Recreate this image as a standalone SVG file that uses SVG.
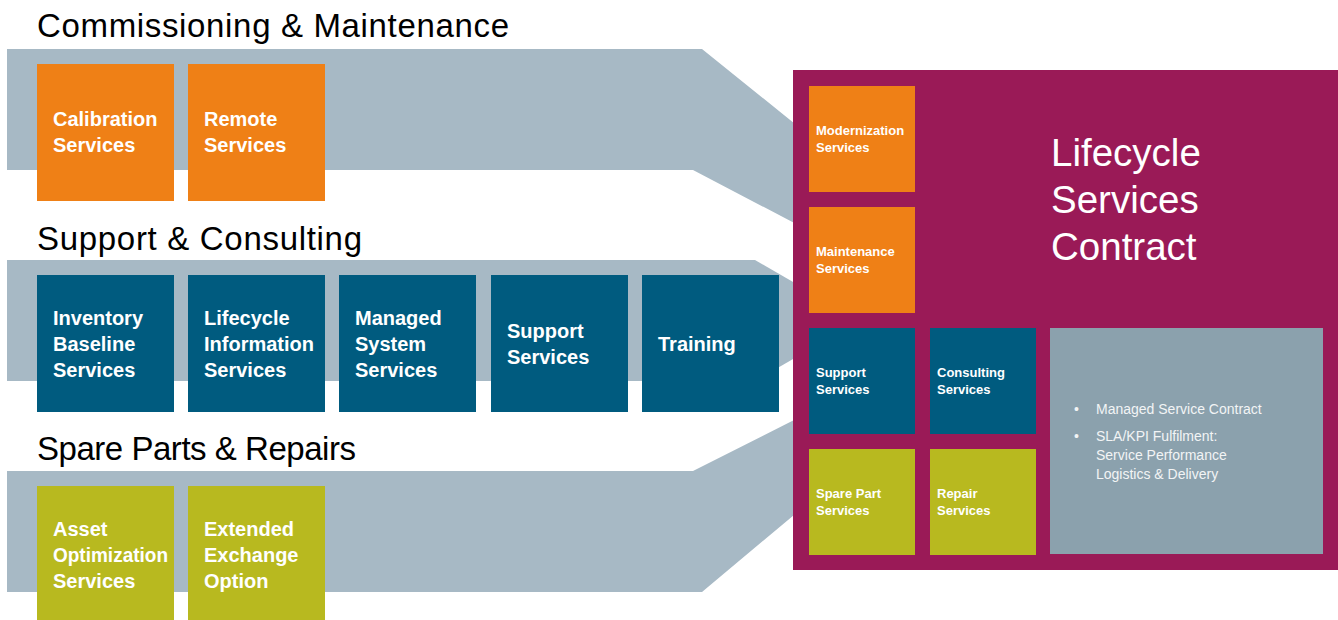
<svg xmlns="http://www.w3.org/2000/svg" width="1338" height="620" viewBox="0 0 1338 620">
<style>
.band{fill:#a7b9c5}
.h{font-family:"Liberation Sans",Arial,sans-serif;font-size:33px;fill:#000}
.big{font-family:"Liberation Sans",Arial,sans-serif;font-size:20px;font-weight:bold;fill:#fff}
.sm{font-family:"Liberation Sans",Arial,sans-serif;font-size:13px;font-weight:bold;fill:#fff}
.or{fill:#ef8016}.bl{fill:#005b7f}.ol{fill:#b8b91f}
.title{font-family:"Liberation Sans",Arial,sans-serif;font-size:38.5px;fill:#fff}
.bul{font-family:"Liberation Sans",Arial,sans-serif;font-size:14px;fill:#f2f4f5}
</style>
<g id="connectors">
<polygon class="band" points="7,49 702,49 800,128 800,226 693,170 7,170"/>
<polygon class="band" points="7,260 755,260 800,286 800,355 755,381 7,381"/>
<polygon class="band" points="7,471 693,471 800,417 800,510 702,592 7,592"/>
</g>
<g id="headings">
<text class="h" x="37" y="37" textLength="472">Commissioning &amp; Maintenance</text>
<text class="h" x="37" y="250" textLength="325">Support &amp; Consulting</text>
<text class="h" x="37" y="460" textLength="319">Spare Parts &amp; Repairs</text>
</g>
<g id="calibration"><rect class="or" x="37" y="64" width="137" height="137"/><text class="big" x="53" y="126">Calibration</text><text class="big" x="53" y="152">Services</text></g>
<g id="remote"><rect class="or" x="188" y="64" width="137" height="137"/><text class="big" x="204" y="126">Remote</text><text class="big" x="204" y="152">Services</text></g>
<g id="inventory"><rect class="bl" x="37" y="275" width="137" height="137"/><text class="big" x="53" y="325">Inventory</text><text class="big" x="53" y="351">Baseline</text><text class="big" x="53" y="377">Services</text></g>
<g id="lifecycle-info"><rect class="bl" x="188" y="275" width="137" height="137"/><text class="big" x="204" y="325">Lifecycle</text><text class="big" x="204" y="351">Information</text><text class="big" x="204" y="377">Services</text></g>
<g id="managed"><rect class="bl" x="339" y="275" width="137" height="137"/><text class="big" x="355" y="325">Managed</text><text class="big" x="355" y="351">System</text><text class="big" x="355" y="377">Services</text></g>
<g id="support"><rect class="bl" x="491" y="275" width="137" height="137"/><text class="big" x="507" y="338">Support</text><text class="big" x="507" y="364">Services</text></g>
<g id="training"><rect class="bl" x="642" y="275" width="137" height="137"/><text class="big" x="658" y="351">Training</text></g>
<g id="asset"><rect class="ol" x="37" y="486" width="137" height="137"/><text class="big" x="53" y="536">Asset</text><text class="big" x="53" y="562" textLength="115" lengthAdjust="spacingAndGlyphs">Optimization</text><text class="big" x="53" y="588">Services</text></g>
<g id="exchange"><rect class="ol" x="188" y="486" width="137" height="137"/><text class="big" x="204" y="536">Extended</text><text class="big" x="204" y="562">Exchange</text><text class="big" x="204" y="588">Option</text></g>
<g id="contract">
<rect x="793" y="70" width="545" height="500" fill="#9a1a57"/>
<text class="title" x="1051" y="166">Lifecycle</text>
<text class="title" x="1051" y="213">Services</text>
<text class="title" x="1051" y="260">Contract</text>
</g>
<g id="modernization"><rect class="or" x="809" y="86" width="106" height="106"/><text class="sm" x="816" y="135">Modernization</text><text class="sm" x="816" y="152">Services</text></g>
<g id="maintenance"><rect class="or" x="809" y="207" width="106" height="106"/><text class="sm" x="816" y="256">Maintenance</text><text class="sm" x="816" y="273">Services</text></g>
<g id="support-s"><rect class="bl" x="809" y="328" width="106" height="106"/><text class="sm" x="816" y="377">Support</text><text class="sm" x="816" y="394">Services</text></g>
<g id="consulting"><rect class="bl" x="930" y="328" width="106" height="106"/><text class="sm" x="937" y="377">Consulting</text><text class="sm" x="937" y="394">Services</text></g>
<g id="sparepart"><rect class="ol" x="809" y="449" width="106" height="106"/><text class="sm" x="816" y="498">Spare Part</text><text class="sm" x="816" y="515">Services</text></g>
<g id="repair"><rect class="ol" x="930" y="449" width="106" height="106"/><text class="sm" x="937" y="498">Repair</text><text class="sm" x="937" y="515">Services</text></g>
<g id="managed-contract">
<rect x="1050" y="328" width="273" height="226" fill="#8ba1ad"/>
<text class="bul" x="1074" y="414">•</text><text class="bul" x="1096" y="414">Managed Service Contract</text>
<text class="bul" x="1074" y="441">•</text><text class="bul" x="1096" y="441">SLA/KPI Fulfilment:</text>
<text class="bul" x="1096" y="460">Service Performance</text>
<text class="bul" x="1096" y="479">Logistics &amp; Delivery</text>
</g>
</svg>
